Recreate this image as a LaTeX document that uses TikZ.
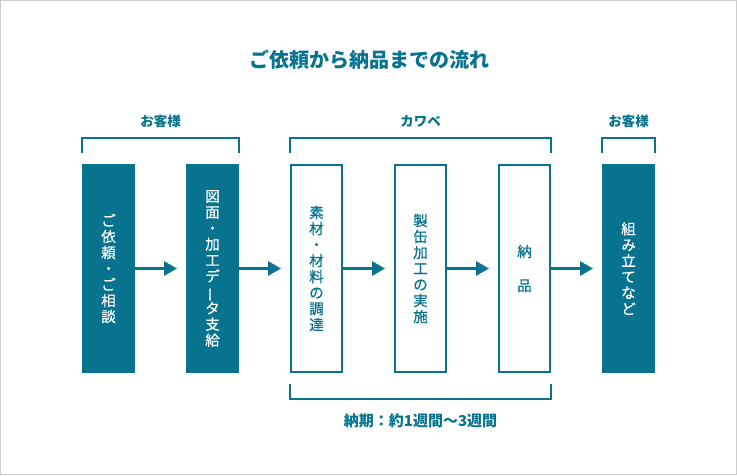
\documentclass[tikz,border=0pt]{standalone}
\usepackage{fontspec}
\setmainfont{Noto Sans CJK JP}
\newfontfamily\boxfont{Noto Sans CJK JP}[FakeBold=0.5]
\usepackage{graphicx}
\usepackage{xcolor}
\usepackage{tikz}
\usetikzlibrary{arrows.meta}

\definecolor{kteal}{HTML}{07738F}
\definecolor{kgray}{HTML}{CCCCCC}

\tikzset{
  solidbox/.style={fill=kteal,text=white,minimum width=53pt,minimum height=209pt,
    inner sep=0pt,outer sep=0pt,align=center,font=\boxfont\fontsize{14.5}{16}\selectfont},
  openbox/.style={draw=kteal,line width=2pt,text=kteal,minimum width=51pt,minimum height=207pt,
    inner sep=0pt,align=center,font=\boxfont\fontsize{14.5}{16}\selectfont},
  flow/.style={draw=kteal,line width=3pt,-{Triangle[length=13pt,width=14pt]},shorten >=9pt},
  brace/.style={draw=kteal,line width=1.2pt},
  tag/.style={text=kteal,font=\fontsize{13.5}{16}\selectfont\bfseries}
}

\begin{document}
\begin{tikzpicture}[x=1pt,y=1pt]
\useasboundingbox (0,0) rectangle (737,475);
\draw[kgray,line width=1pt,fill=white] (0.5,0.5) rectangle (736.5,474.5);

  \node[text=kteal,font=\fontsize{20}{24}\selectfont\bfseries] (title) at (369,415) {ご依頼から納品までの流れ};

  % steps
  \node[solidbox] (ask) at (108.5,206.5) {ご\\依\\頼\\・\\ご\\相\\談};
  \node[solidbox] (data) at (212.5,206.5) {図\\面\\・\\加\\工\\デ\\\rotatebox[origin=c]{90}{ー}\\タ\\支\\給};
  \node[openbox] (stock) at (316.5,206.5) {素\\材\\・\\材\\料\\の\\調\\達};
  \node[openbox] (make) at (420.5,206.5) {製\\缶\\加\\工\\の\\実\\施};
  \node[openbox] (ship) at (524.5,206.5) {納\\[18pt]品};
  \node[solidbox] (build) at (628.5,206.5) {組\\み\\立\\て\\な\\ど};

  \draw[flow] (ask.east) -- (data.west);
  \draw[flow] (data.east) -- (stock.west);
  \draw[flow] (stock.east) -- (make.west);
  \draw[flow] (make.east) -- (ship.west);
  \draw[flow] (ship.east) -- (build.west);

  % brackets
  \draw[brace] ([yshift=11pt]ask.north west) -- ++(0,15) -| ([yshift=11pt]data.north east);
  \node[tag] (client1) at (160.5,354) {お客様};
  \draw[brace] ([yshift=11pt]stock.north west) -- ++(0,15) -| ([yshift=11pt]ship.north east);
  \node[tag] (kawabe) at (420.5,354) {カワベ};
  \draw[brace] ([yshift=11pt]build.north west) -- ++(0,15) -| ([yshift=11pt]build.north east);
  \node[tag] (client2) at (628.5,354) {お客様};

  \draw[brace] ([yshift=-11pt]stock.south west) -- ++(0,-15) -| ([yshift=-11pt]ship.south east);
  \node[tag,font=\fontsize{15}{18}\selectfont\bfseries] (term) at (420.5,54) {納期：約1週間～3週間};
\end{tikzpicture}
\end{document}
